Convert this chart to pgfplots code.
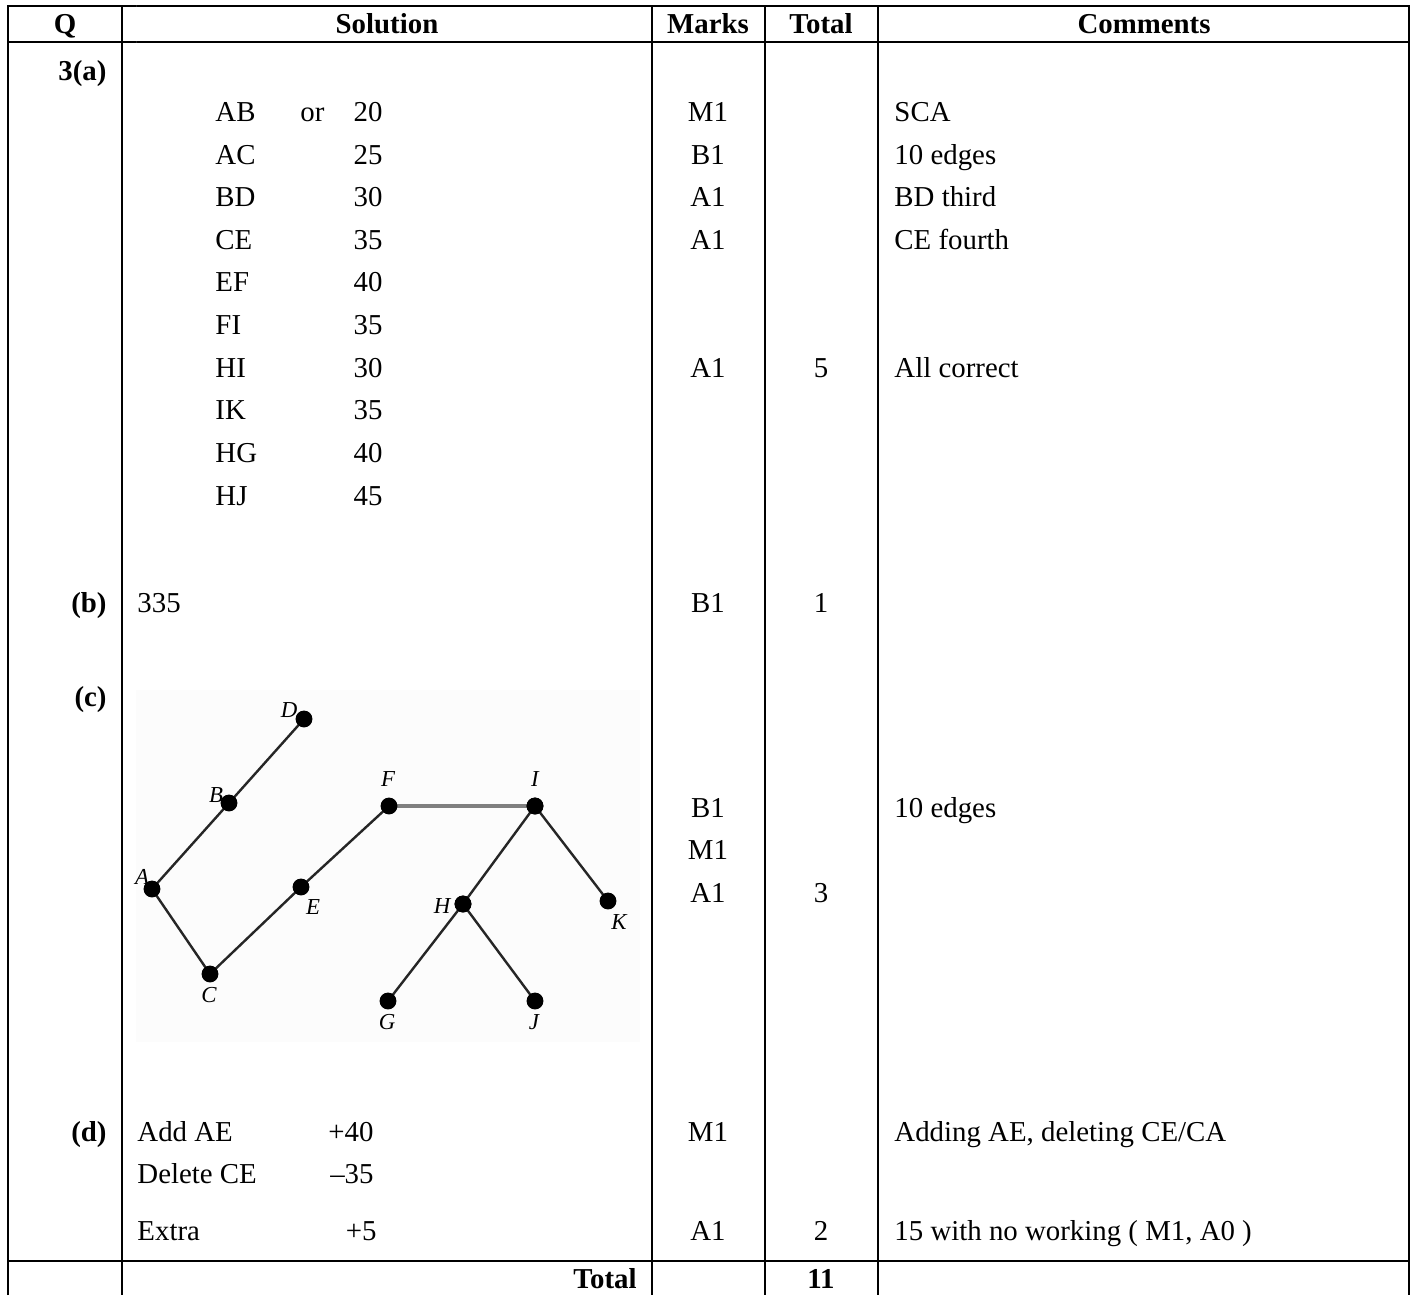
\documentclass[border=0pt]{standalone}
\usepackage{pgfplots}
\pgfplotsset{compat=1.18}
\usepackage{fontspec}
\setmainfont{Liberation Serif}

\tikzset{
    t/.style={font=\fontsize{12}{14}\selectfont, inner sep=0pt},
    lab/.style={font=\fontsize{9.5}{10}\selectfont\itshape, inner sep=0pt},
}
\pgfplotsset{
    rule/.style={black, line width=1.1pt, no marks, forget plot},
    edge/.style={black!85, line width=1pt, mark=*, mark size=3pt, mark options={black}, forget plot},
}

\begin{document}
\begin{tikzpicture}
\begin{axis}[
    x=0.416pt, y=0.416pt, y dir=reverse,
    xmin=0, xmax=1414, ymin=0, ymax=1295,
    hide axis, clip=false,
]
% page frame (invisible)
\addplot[draw=none, no marks, forget plot] coordinates {(0,0) (1414,1295)};

% table rules
\addplot[rule] coordinates {(8,1295) (8,6) (1409,6) (1409,1295)};
\addplot[rule] coordinates {(8,42) (1409,42)};
\addplot[rule] coordinates {(8,1261) (1409,1261)};
\addplot[rule] coordinates {(122,6) (122,1295)};
\addplot[rule] coordinates {(652,6) (652,1295)};
\addplot[rule] coordinates {(765,6) (765,1295)};
\addplot[rule] coordinates {(878,6) (878,1295)};

% header
\node[t, anchor=base] at (axis cs:65,33) {\textbf{Q}};
\node[t, anchor=base] at (axis cs:387,33) {\textbf{Solution}};
\node[t, anchor=base] at (axis cs:708,33) {\textbf{Marks}};
\node[t, anchor=base] at (axis cs:821,33) {\textbf{Total}};
\node[t, anchor=base] at (axis cs:1144,33) {\textbf{Comments}};

% question labels
\node[t, anchor=base east] at (axis cs:107,80) {\textbf{3(a)}};
\node[t, anchor=base east] at (axis cs:107,612) {\textbf{(b)}};
\node[t, anchor=base east] at (axis cs:107,706) {\textbf{(c)}};
\node[t, anchor=base east] at (axis cs:107,1141) {\textbf{(d)}};

% (a) edges
\node[t, anchor=base west] at (axis cs:215,121) {AB};
\node[t, anchor=base west] at (axis cs:300,121) {or};
\node[t, anchor=base east] at (axis cs:383,121) {20};
\node[t, anchor=base west] at (axis cs:215,164) {AC};
\node[t, anchor=base east] at (axis cs:383,164) {25};
\node[t, anchor=base west] at (axis cs:215,206) {BD};
\node[t, anchor=base east] at (axis cs:383,206) {30};
\node[t, anchor=base west] at (axis cs:215,249) {CE};
\node[t, anchor=base east] at (axis cs:383,249) {35};
\node[t, anchor=base west] at (axis cs:215,291) {EF};
\node[t, anchor=base east] at (axis cs:383,291) {40};
\node[t, anchor=base west] at (axis cs:215,334) {FI};
\node[t, anchor=base east] at (axis cs:383,334) {35};
\node[t, anchor=base west] at (axis cs:215,377) {HI};
\node[t, anchor=base east] at (axis cs:383,377) {30};
\node[t, anchor=base west] at (axis cs:215,419) {IK};
\node[t, anchor=base east] at (axis cs:383,419) {35};
\node[t, anchor=base west] at (axis cs:215,462) {HG};
\node[t, anchor=base east] at (axis cs:383,462) {40};
\node[t, anchor=base west] at (axis cs:215,505) {HJ};
\node[t, anchor=base east] at (axis cs:383,505) {45};

\node[t, anchor=base] at (axis cs:708,121) {M1};
\node[t, anchor=base] at (axis cs:708,164) {B1};
\node[t, anchor=base] at (axis cs:708,206) {A1};
\node[t, anchor=base] at (axis cs:708,249) {A1};
\node[t, anchor=base] at (axis cs:708,377) {A1};
\node[t, anchor=base] at (axis cs:821,377) {5};
\node[t, anchor=base west] at (axis cs:894,121) {SCA};
\node[t, anchor=base west] at (axis cs:894,164) {10 edges};
\node[t, anchor=base west] at (axis cs:894,206) {BD third};
\node[t, anchor=base west] at (axis cs:894,249) {CE fourth};
\node[t, anchor=base west] at (axis cs:894,377) {All correct};

% (b)
\node[t, anchor=base west] at (axis cs:137,612) {335};
\node[t, anchor=base] at (axis cs:708,612) {B1};
\node[t, anchor=base] at (axis cs:821,612) {1};

% (c) spanning tree
\addplot[fill=black!1, draw=none, forget plot] coordinates {(136,690) (640,690) (640,1042) (136,1042)} \closedcycle;
\addplot[edge] coordinates {(304,719) (229,803) (152,889) (210,974) (301,887) (389,806)};
\addplot[black!50, line width=1.3pt, no marks, forget plot] coordinates {(389,806) (535,806)};
\addplot[edge] coordinates {(535,806) (463,904) (388,1001)};
\addplot[edge] coordinates {(463,904) (535,1001)};
\addplot[edge] coordinates {(535,806) (608,901)};
\node[lab] at (axis cs:289,710) {D};
\node[lab] at (axis cs:216,795) {B};
\node[lab] at (axis cs:388,779) {F};
\node[lab] at (axis cs:535,779) {I};
\node[lab] at (axis cs:142,877) {A};
\node[lab] at (axis cs:313,907) {E};
\node[lab] at (axis cs:442,906) {H};
\node[lab] at (axis cs:619,922) {K};
\node[lab] at (axis cs:209,995) {C};
\node[lab] at (axis cs:387,1022) {G};
\node[lab] at (axis cs:534,1022) {J};

\node[t, anchor=base] at (axis cs:708,817) {B1};
\node[t, anchor=base] at (axis cs:708,859) {M1};
\node[t, anchor=base] at (axis cs:708,902) {A1};
\node[t, anchor=base] at (axis cs:821,902) {3};
\node[t, anchor=base west] at (axis cs:894,817) {10 edges};

% (d)
\node[t, anchor=base west] at (axis cs:137,1141) {Add AE};
\node[t, anchor=base east] at (axis cs:374,1141) {+40};
\node[t, anchor=base west] at (axis cs:137,1183) {Delete CE};
\node[t, anchor=base east] at (axis cs:374,1183) {–35};
\node[t, anchor=base west] at (axis cs:137,1240) {Extra};
\node[t, anchor=base east] at (axis cs:377,1240) {+5};
\node[t, anchor=base] at (axis cs:708,1141) {M1};
\node[t, anchor=base] at (axis cs:708,1240) {A1};
\node[t, anchor=base] at (axis cs:821,1240) {2};
\node[t, anchor=base west] at (axis cs:894,1141) {Adding AE, deleting CE/CA};
\node[t, anchor=base west] at (axis cs:894,1240) {15 with no working ( M1, A0 )};

% total row
\node[t, anchor=base east] at (axis cs:637,1288) {\textbf{Total}};
\node[t, anchor=base] at (axis cs:821,1288) {\textbf{11}};
\end{axis}
\end{tikzpicture}
\end{document}
